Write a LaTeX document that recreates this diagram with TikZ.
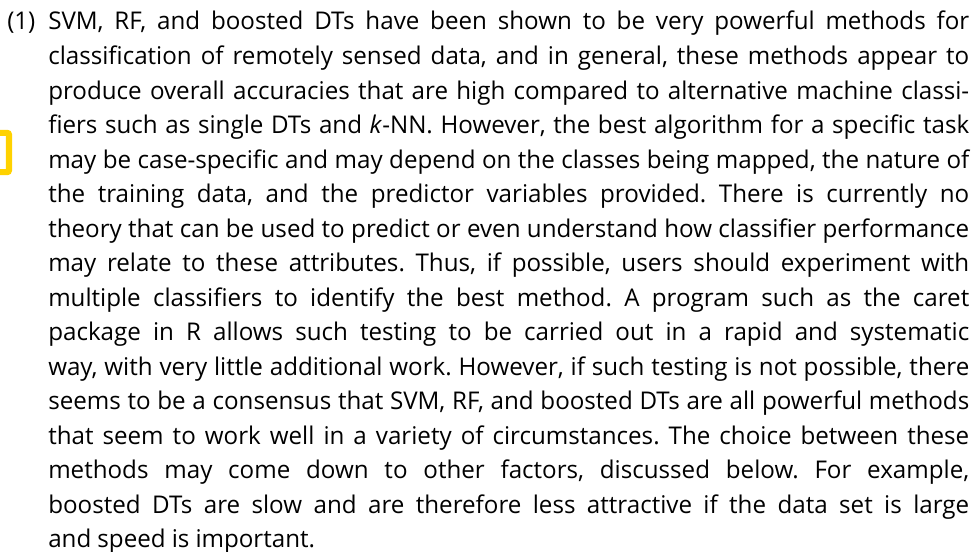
\documentclass[tikz,border=0pt]{standalone}
\usepackage{fontspec}
\setmainfont{Open Sans}[FakeStretch=0.99]
\definecolor{markyellow}{HTML}{FFD200}
\newlength\bodyw
\setlength\bodyw{690.75pt}
\newcommand\wsp{\spaceskip=0.25em plus 1.5em minus 0.07em\relax}
\newcommand\bodyfont{\fontsize{18.3pt}{25.9pt}\selectfont\frenchspacing\wsp}
\newcommand\jl[1]{\leavevmode\hbox to \bodyw{\wsp #1}\\}
\hbadness=10000
\hfuzz=20pt
\begin{document}
\begin{tikzpicture}[x=0.75pt,y=-0.75pt]
\useasboundingbox (0,0) rectangle (980,552);
\tikzset{
  txt/.style={font=\bodyfont, text=black, inner sep=0pt},
  bodytext/.style={txt, anchor=base west, text width=\bodyw},
  itemnum/.style={txt, anchor=base west},
  marker/.style={draw=markyellow, fill=white, line width=4.6pt, rounded corners=1.5pt,
                 minimum width=12pt, minimum height=29.5pt, inner sep=0pt}
}
\node[marker] (mark) at (1,152.5) {};
\node[itemnum] (num) at (7,30) {(1)};
\node[bodytext] (body) at (48,30) {\parindent=0pt\wsp
\jl{SVM, RF, and boosted DTs have been shown to be very powerful methods for}
\jl{classification of remotely sensed data, and in general, these methods appear to}
\jl{produce overall accuracies that are high compared to alternative machine classi-}
\jl{fiers such as single DTs and \textit{k}-NN. However, the best algorithm for a specific task}
\jl{may be case-specific and may depend on the classes being mapped, the nature of}
\jl{the training data, and the predictor variables provided. There is currently no}
\jl{theory that can be used to predict or even understand how classifier performance}
\jl{may relate to these attributes. Thus, if possible, users should experiment with}
\jl{multiple classifiers to identify the best method. A program such as the caret}
\jl{package in R allows such testing to be carried out in a rapid and systematic}
\jl{way, with very little additional work. However, if such testing is not possible, there}
\jl{seems to be a consensus that SVM, RF, and boosted DTs are all powerful methods}
\jl{that seem to work well in a variety of circumstances. The choice between these}
\jl{methods may come down to other factors, discussed below. For example,}
\jl{boosted DTs are slow and are therefore less attractive if the data set is large}
\hbox{\wsp and speed is important.}};
\end{tikzpicture}
\end{document}
